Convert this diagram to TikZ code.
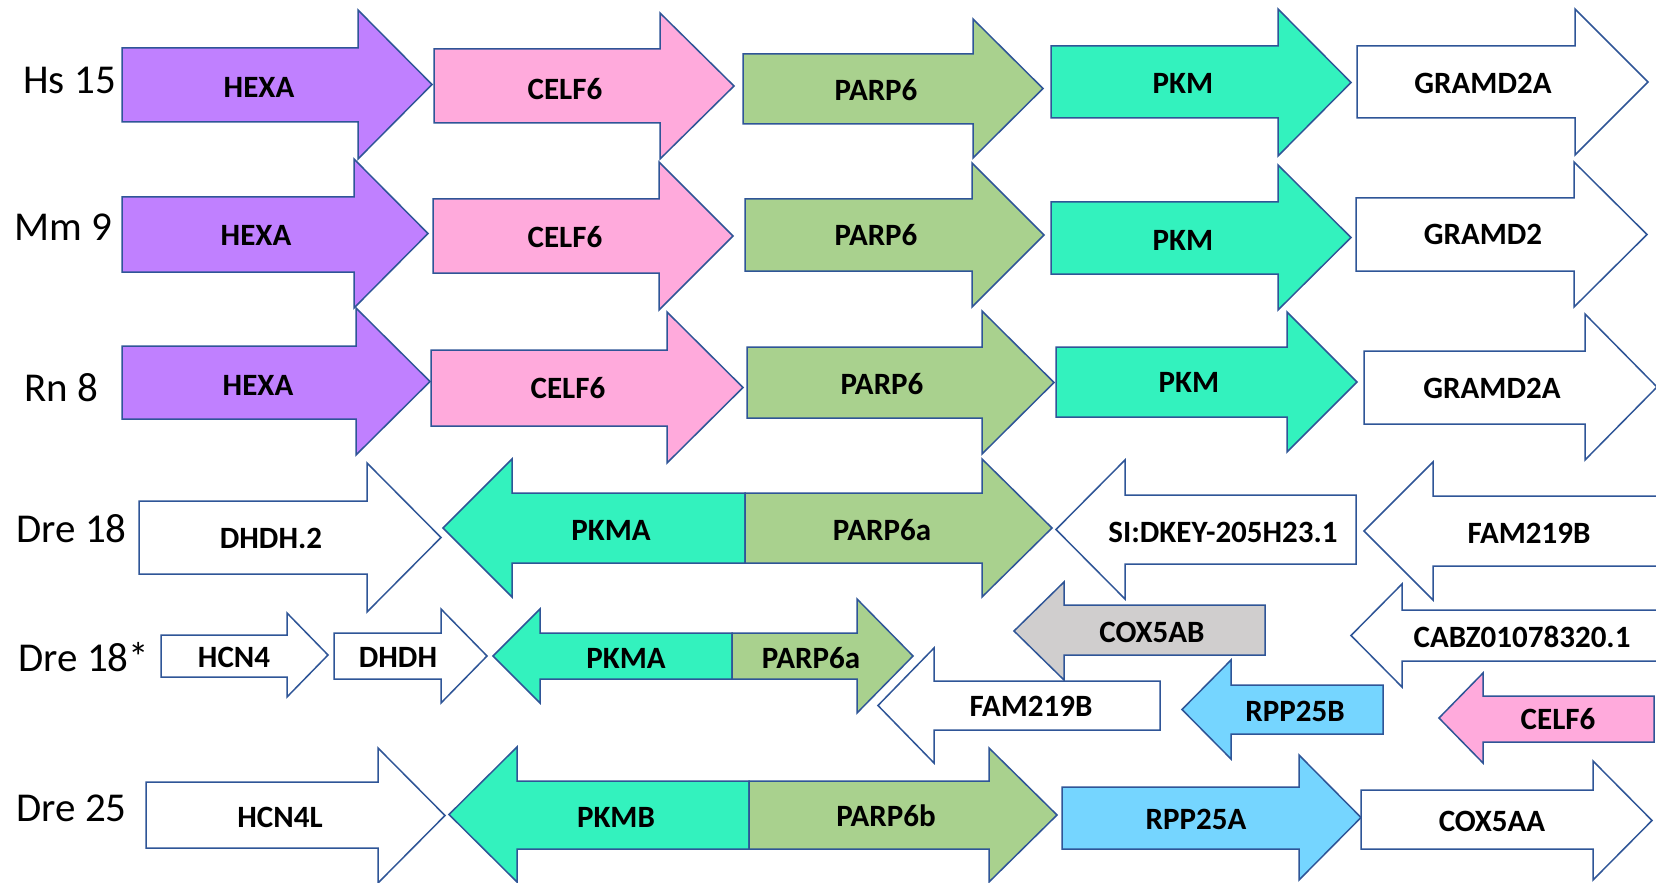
\documentclass[tikz,border=0pt]{standalone}
\usepackage{fontspec}
\setmainfont{Carlito}
\definecolor{edge}{HTML}{2F5597}
\definecolor{cHexa}{HTML}{C080FF}
\definecolor{cCelf}{HTML}{FFAADC}
\definecolor{cParp}{HTML}{A9D18E}
\definecolor{cPkm}{HTML}{33F2BE}
\definecolor{cRpp}{HTML}{75D5FF}
\definecolor{cCox}{HTML}{D0CECE}

% forward gene: style, left x, head x, tip x, body top, body bottom, head top, head bottom
\newcommand{\genefwd}[8]{%
  \draw[gbox,#1] (#2,#5) -- (#3,#5) -- (#3,#7) -- (#4,{(#7+#8)/2}) -- (#3,#8) -- (#3,#6) -- (#2,#6) -- cycle;}
% reverse gene: style, tip x, head x, right x, body top, body bottom, head top, head bottom
\newcommand{\generev}[8]{%
  \draw[gbox,#1] (#4,#5) -- (#3,#5) -- (#3,#7) -- (#2,{(#7+#8)/2}) -- (#3,#8) -- (#3,#6) -- (#4,#6) -- cycle;}

\begin{document}
\begin{tikzpicture}[x=0.5pt,y=-0.5pt,
  gbox/.style={draw=edge,line width=0.75pt,line join=miter},
  hexa/.style={fill=cHexa},
  celf/.style={fill=cCelf},
  parp/.style={fill=cParp},
  pkm/.style={fill=cPkm},
  rpp/.style={fill=cRpp},
  grey/.style={fill=cCox},
  white/.style={fill=white},
  gene/.style={inner sep=0pt,text depth=0pt,font=\bfseries\fontsize{15.5}{16}\selectfont},
  chrom/.style={inner sep=0pt,text depth=0pt,anchor=west,font=\fontsize{20.5}{22}\selectfont}]
\useasboundingbox (0,0) rectangle (1656,883);
\clip (0,0) rectangle (1656,883);
\fill[white] (0,0) rectangle (1656,883);

% chromosome labels
\node[chrom] (lHs)   at (23,80)  {Hs 15};
\node[chrom] (lMm)   at (14,227) {Mm 9};
\node[chrom] (lRn)   at (24,387) {Rn 8};
\node[chrom] (lDa)   at (16,528) {Dre 18};
\node[chrom] (lDb)   at (18,657) {Dre 18*};
\node[chrom] (lDc)   at (16,808) {Dre 25};

% Hs 15
\genefwd{hexa}{122}{358}{432}{48}{122}{10}{159}
\genefwd{celf}{434}{660}{734}{49}{123}{13}{159}
\genefwd{parp}{743}{973}{1043}{54}{124}{19}{158}
\genefwd{pkm}{1051}{1278}{1351}{46}{118}{9}{156}
\genefwd{white}{1357}{1575}{1648}{46}{118}{9}{155}
\node[gene] (hs1) at (259,87)  {HEXA};
\node[gene] (hs2) at (565,89)  {CELF6};
\node[gene] (hs3) at (876,90)  {PARP6};
\node[gene] (hs4) at (1183,83) {PKM};
\node[gene] (hs5) at (1483,83) {GRAMD2A};

% Mm 9
\genefwd{hexa}{122}{354}{428}{197}{272}{159}{308}
\genefwd{celf}{433}{659}{733}{199}{273}{162}{310}
\genefwd{parp}{745}{972}{1044}{199}{271}{163}{307}
\genefwd{pkm}{1051}{1278}{1351}{202}{274}{165}{310}
\genefwd{white}{1356}{1574}{1647}{198}{271}{162}{307}
\node[gene] (mm1) at (256,235)  {HEXA};
\node[gene] (mm2) at (565,237)  {CELF6};
\node[gene] (mm3) at (876,235)  {PARP6};
\node[gene] (mm4) at (1183,240) {PKM};
\node[gene] (mm5) at (1483,234) {GRAMD2};

% Rn 8
\genefwd{hexa}{122}{356}{430}{346}{419}{308}{455}
\genefwd{celf}{431}{667}{743}{350}{426}{312}{463}
\genefwd{parp}{747}{982}{1054}{347}{418}{311}{454}
\genefwd{pkm}{1056}{1287}{1357}{347}{417}{312}{452}
\genefwd{white}{1364}{1585}{1657}{351}{424}{314}{460}
\node[gene] (rn1) at (258,385)  {HEXA};
\node[gene] (rn2) at (568,388)  {CELF6};
\node[gene] (rn3) at (882,384)  {PARP6};
\node[gene] (rn4) at (1189,382) {PKM};
\node[gene] (rn5) at (1492,388) {GRAMD2A};

% Dre 18
\genefwd{white}{139}{367}{441}{501}{574}{463}{612}
\generev{pkm}{443}{512}{745}{493}{563}{459}{597}
\genefwd{parp}{745}{982}{1052}{493}{563}{459}{597}
\generev{white}{1056}{1125}{1356}{495}{564}{460}{599}
\generev{white}{1364}{1433}{1700}{496}{566}{462}{600}
\node[gene] (da1) at (271,538)  {DHDH.2};
\node[gene] (da2) at (611,530)  {PKMA};
\node[gene] (da3) at (882,530)  {PARP6a};
\node[gene] (da4) at (1223,532) {SI:DKEY-205H23.1};
\node[gene] (da5) at (1529,533) {FAM219B};

% Dre 18*
\genefwd{white}{161}{287}{328}{635}{677}{613}{697}
\genefwd{white}{334}{441}{487}{633}{679}{609}{703}
\generev{pkm}{493}{540}{732}{633}{679}{609}{703}
\genefwd{parp}{732}{857}{913}{633}{679}{599}{713}
\generev{white}{878}{934}{1160}{681}{730}{648}{763}
\generev{grey}{1014}{1064}{1265}{605}{655}{582}{680}
\generev{rpp}{1182}{1231}{1383}{685}{734}{660}{759}
\generev{white}{1351}{1402}{1700}{610}{661}{584}{687}
\generev{celf}{1439}{1483}{1654}{696}{742}{673}{763}
\node[gene] (db1) at (234,657)  {HCN4};
\node[gene] (db2) at (398,657)  {DHDH};
\node[gene] (db3) at (626,658)  {PKMA};
\node[gene] (db4) at (811,658)  {PARP6a};
\node[gene] (db5) at (1031,706) {FAM219B};
\node[gene] (db6) at (1152,632) {COX5AB};
\node[gene] (db7) at (1295,711) {RPP25B};
\node[gene] (db8) at (1522,637) {CABZ01078320.1};
\node[gene] (db9) at (1558,719) {CELF6};

% Dre 25
\genefwd{white}{146}{378}{445}{782}{848}{748}{883}
\generev{pkm}{449}{517}{749}{781}{849}{747}{882}
\genefwd{parp}{749}{989}{1057}{781}{849}{748}{882}
\genefwd{rpp}{1062}{1299}{1361}{787}{849}{755}{880}
\genefwd{white}{1361}{1593}{1652}{790}{849}{761}{880}
\node[gene] (dc1) at (280,817)  {HCN4L};
\node[gene] (dc2) at (616,817)  {PKMB};
\node[gene] (dc3) at (886,816)  {PARP6b};
\node[gene] (dc4) at (1196,819) {RPP25A};
\node[gene] (dc5) at (1492,821) {COX5AA};
\end{tikzpicture}
\end{document}
